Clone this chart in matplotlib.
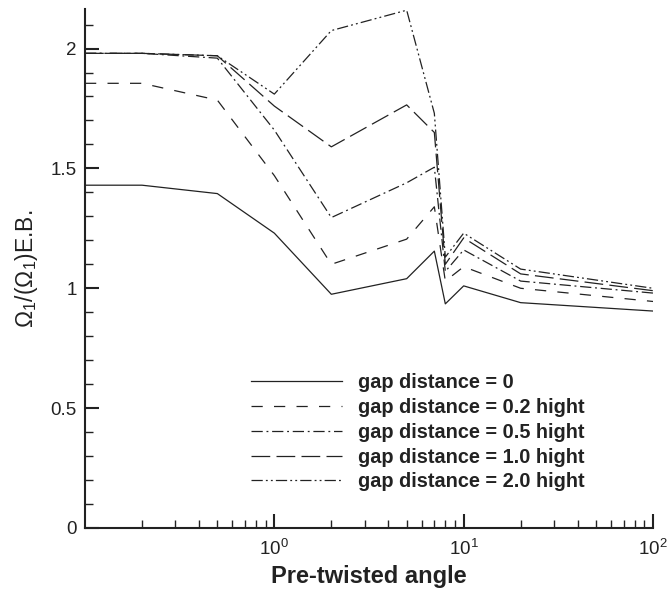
import matplotlib
matplotlib.use("Agg")
import matplotlib.pyplot as plt
from matplotlib.ticker import MultipleLocator, LogLocator, NullFormatter, FixedLocator

plt.rcParams['font.family'] = ['Liberation Sans', 'DejaVu Sans']
plt.rcParams['mathtext.fontset'] = 'custom'
plt.rcParams['mathtext.rm'] = 'Liberation Sans'
plt.rcParams['mathtext.it'] = 'Liberation Sans:italic'
plt.rcParams['mathtext.bf'] = 'Liberation Sans:bold'

# datos
angle = [0.1, 0.2, 0.5, 1, 2, 5, 7, 8, 10, 20, 100]
gap_0 = [1.43, 1.43, 1.395, 1.23, 0.975, 1.04, 1.155, 0.935, 1.01, 0.94, 0.905]
gap_02 = [1.855, 1.855, 1.785, 1.47, 1.10, 1.205, 1.34, 1.03, 1.09, 1.0, 0.945]
gap_05 = [1.98, 1.98, 1.96, 1.66, 1.295, 1.44, 1.505, 1.07, 1.16, 1.03, 0.98]
gap_10 = [1.98, 1.98, 1.97, 1.76, 1.59, 1.765, 1.65, 1.10, 1.21, 1.06, 0.99]
gap_20 = [1.98, 1.98, 1.97, 1.81, 2.075, 2.16, 1.73, 1.13, 1.23, 1.08, 1.0]

labels = ['gap distance = 0', 'gap distance = 0.2 hight', 'gap distance = 0.5 hight',
          'gap distance = 1.0 hight', 'gap distance = 2.0 hight']
series = [gap_0, gap_02, gap_05, gap_10, gap_20]
dashes = [None, (9, 9), (9, 3, 1.5, 3), (15, 5), (9, 2.5, 1.5, 2.5, 1.5, 2.5)]

x_ticks = [1, 10, 100]
x_ticklabels = ['$10^0$', '$10^1$', '$10^2$']
y_ticks = [0, 0.5, 1, 1.5, 2]
y_ticklabels = ['0', '0.5', '1', '1.5', '2']

fig = plt.figure(figsize=(6.67, 5.91), dpi=100)
ax = fig.add_axes([85/667, 63/591, 568/667, 519/591])

for vals, lab, d in zip(series, labels, dashes):
    line, = ax.plot(angle, vals, color='#222222', lw=0.9, label=lab)
    if d is not None:
        line.set_dashes(d)

ax.set_xscale('log')
ax.set_xlim(0.1, 100)
ax.set_ylim(0, 2.165)

ax.set_yticks(y_ticks)
ax.set_yticklabels(y_ticklabels)
ax.yaxis.set_minor_locator(MultipleLocator(0.1))
ax.set_xticks(x_ticks)
ax.set_xticklabels(x_ticklabels)
ax.xaxis.set_minor_locator(LogLocator(base=10, subs=range(2, 10)))
ax.xaxis.set_minor_formatter(NullFormatter())

for s in ['top', 'right']:
    ax.spines[s].set_visible(False)
for s in ['left', 'bottom']:
    ax.spines[s].set_linewidth(1.5)
    ax.spines[s].set_color('#222222')

ax.tick_params(which='major', direction='in', length=10, width=1.5, labelsize=13.5,
               colors='#222222')
ax.tick_params(which='minor', direction='in', length=6, width=1, colors='#222222')
ax.tick_params(axis='y', pad=6)
ax.tick_params(axis='x', pad=8)

ax.set_xlabel('Pre-twisted angle', fontsize=17, fontweight='bold', color='#222222', labelpad=4)
ax.set_ylabel('Ω$_1$/(Ω$_1$)E.B.', fontsize=16.5, color='#222222')
ax.yaxis.set_label_coords(-0.079, 0.5)

leg = ax.legend(loc='upper left', bbox_to_anchor=(0.292, 0.298), frameon=False,
                handlelength=4.6, handletextpad=0.8, labelspacing=0.29,
                borderpad=0, borderaxespad=0,
                prop={'size': 14.3, 'weight': 'bold'})
for t in leg.get_texts():
    t.set_color('#222222')

plt.savefig('out.png', dpi=100)
